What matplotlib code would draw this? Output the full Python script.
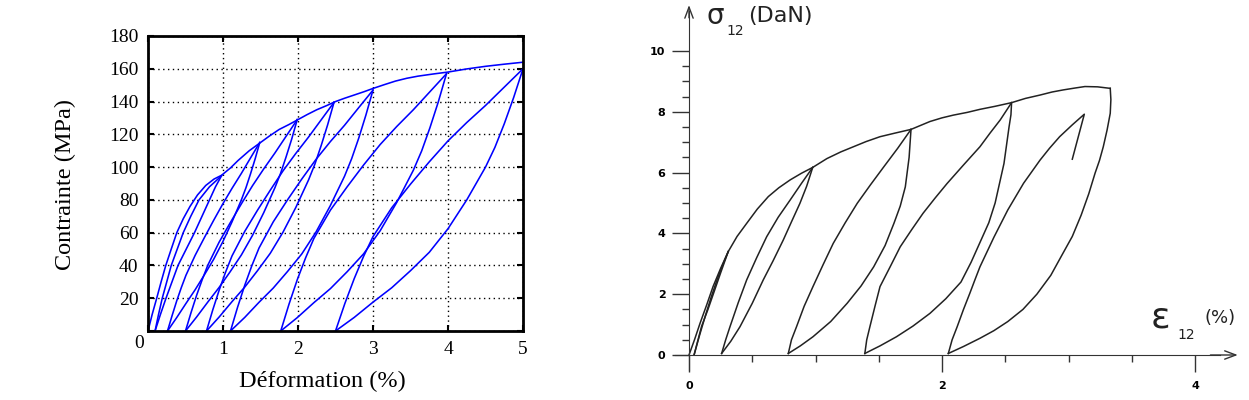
import matplotlib.pyplot as plt
from matplotlib.ticker import FixedLocator

# ---- left panel : contrainte (MPa) vs deformation (%) ----
env_eps = [0, 0.055, 0.116, 0.175, 0.237, 0.31, 0.384, 0.47, 0.56, 0.66, 0.77, 0.88, 0.98,
           1.1, 1.2, 1.35, 1.5, 1.62, 1.75, 1.88, 2.0, 2.12, 2.25, 2.38, 2.5, 2.62, 2.75,
           2.88, 3.0, 3.15, 3.3, 3.45, 3.6, 3.8, 4.0, 4.25, 4.5, 4.75, 5.0]
env_sig = [0, 10, 20, 30, 40, 50, 60, 68.5, 76, 83, 88.8, 92.7, 95,
           99.5, 104, 110, 115, 119, 123, 126, 129, 132, 135, 137.5, 140, 142, 144,
           146, 148, 150.3, 152.5, 154.2, 155.5, 156.8, 158, 159.9, 161.5, 162.8, 164]

l1_down_eps = [0.98, 0.90, 0.82, 0.72, 0.62, 0.51, 0.40, 0.32, 0.24, 0.165, 0.094]
l1_down_sig = [94.7, 88, 80, 70, 60, 50, 40, 30, 20, 10, 0]
l1_up_eps = [0.094, 0.14, 0.19, 0.25, 0.31, 0.39, 0.47, 0.57, 0.68, 0.82, 0.98]
l1_up_sig = [0, 10, 20, 30, 40, 50, 60, 70, 80, 88, 94.7]

l2_down_eps = [1.49, 1.429, 1.367, 1.306, 1.244, 1.121, 0.998, 0.875, 0.752, 0.629, 0.506, 0.383, 0.26]
l2_down_sig = [115, 105.1, 95.9, 87.4, 79.9, 66.7, 54.5, 43.7, 34.3, 25.2, 16.8, 8.2, 0]
l2_up_eps = [0.26, 0.322, 0.383, 0.445, 0.506, 0.629, 0.752, 0.875, 0.998, 1.121, 1.244, 1.367, 1.49]
l2_up_sig = [0, 9.5, 18.4, 26.6, 34.0, 46.2, 57.0, 67.5, 77.6, 87.1, 96.1, 105.6, 115]

l3_down_eps = [1.99, 1.916, 1.841, 1.767, 1.692, 1.543, 1.394, 1.245, 1.096, 0.947, 0.798, 0.649, 0.50]
l3_down_sig = [129, 117.1, 106.2, 96.1, 87.4, 72.2, 58.4, 46.4, 36.2, 26.5, 17.7, 8.6, 0]
l3_up_eps = [0.50, 0.575, 0.649, 0.724, 0.798, 0.947, 1.096, 1.245, 1.394, 1.543, 1.692, 1.841, 1.99]
l3_up_sig = [0, 11.4, 21.9, 31.5, 40.2, 54.1, 66.0, 77.6, 88.7, 98.9, 108.6, 118.8, 129]

l4_down_eps = [2.48, 2.395, 2.31, 2.225, 2.14, 1.97, 1.80, 1.63, 1.46, 1.29, 1.12, 0.95, 0.78]
l4_down_sig = [139.5, 125.8, 113.3, 101.8, 92.1, 75.3, 60.3, 47.4, 36.8, 26.8, 17.9, 8.6, 0]
l4_up_eps = [0.78, 0.865, 0.95, 1.035, 1.12, 1.29, 1.46, 1.63, 1.80, 1.97, 2.14, 2.31, 2.48]
l4_up_sig = [0, 13.1, 25.1, 36.0, 45.8, 60.8, 73.7, 85.9, 97.7, 108.3, 118.3, 128.9, 139.5]

l5_down_eps = [3.0, 2.905, 2.81, 2.715, 2.62, 2.43, 2.24, 2.05, 1.86, 1.67, 1.48, 1.29, 1.10]
l5_down_sig = [147, 131.7, 117.7, 105.1, 94.4, 76.4, 60.4, 47.0, 36.3, 26.2, 17.5, 8.3, 0]
l5_up_eps = [1.10, 1.195, 1.29, 1.385, 1.48, 1.67, 1.86, 2.05, 2.24, 2.43, 2.62, 2.81, 3.0]
l5_up_sig = [0, 14.6, 27.9, 39.9, 50.6, 66.6, 80.0, 92.7, 104.7, 115.5, 125.5, 136.3, 147]

l6_down_eps = [3.98, 3.87, 3.759, 3.649, 3.538, 3.317, 3.096, 2.875, 2.654, 2.433, 2.212, 1.991, 1.77]
l6_down_sig = [157, 139.7, 124.0, 109.9, 98.1, 78.5, 61.2, 47.1, 36.1, 25.9, 17.3, 8.2, 0]
l6_up_eps = [1.77, 1.881, 1.991, 2.102, 2.212, 2.433, 2.654, 2.875, 3.096, 3.317, 3.538, 3.759, 3.98]
l6_up_sig = [0, 16.5, 31.4, 44.7, 56.5, 73.8, 87.9, 101.3, 113.8, 124.8, 135.0, 146.0, 157]

l7_down_eps = [5.0, 4.875, 4.75, 4.625, 4.5, 4.25, 4.0, 3.75, 3.5, 3.25, 3.0, 2.75, 2.5]
l7_down_sig = [160, 142.4, 126.4, 112.0, 100.0, 80.0, 62.4, 48.0, 36.8, 26.4, 17.6, 8.3, 0]
l7_up_eps = [2.5, 2.625, 2.75, 2.875, 3.0, 3.25, 3.5, 3.75, 4.0, 4.25, 4.5, 4.75, 5.0]
l7_up_sig = [0, 16.8, 32.0, 45.6, 57.6, 75.2, 89.6, 103.2, 116.0, 127.2, 137.6, 148.8, 160]

left_curves = [
    (l1_down_eps, l1_down_sig), (l1_up_eps, l1_up_sig),
    (l2_down_eps, l2_down_sig), (l2_up_eps, l2_up_sig),
    (l3_down_eps, l3_down_sig), (l3_up_eps, l3_up_sig),
    (l4_down_eps, l4_down_sig), (l4_up_eps, l4_up_sig),
    (l5_down_eps, l5_down_sig), (l5_up_eps, l5_up_sig),
    (l6_down_eps, l6_down_sig), (l6_up_eps, l6_up_sig),
    (l7_down_eps, l7_down_sig), (l7_up_eps, l7_up_sig),
]

left_xticks = [0, 1, 2, 3, 4, 5]
left_xlabels = ['', '1', '2', '3', '4', '5']
left_yticks = [0, 20, 40, 60, 80, 100, 120, 140, 160, 180]
left_ylabels = [''] + [str(v) for v in left_yticks[1:]]

# ---- right panel : sigma12 (DaN) vs epsilon12 (%) ----
r_env_eps = [0, 0.045, 0.087, 0.14, 0.19, 0.25, 0.31, 0.38, 0.456, 0.54, 0.627, 0.71, 0.80,
             0.89, 0.978, 1.09, 1.2, 1.30, 1.40, 1.51, 1.63, 1.755, 1.905, 2.0, 2.09, 2.2,
             2.30, 2.42, 2.55, 2.66, 2.775, 2.87, 2.96, 3.05, 3.13, 3.23, 3.33]
r_env_sig = [0, 0.52, 1.04, 1.65, 2.25, 2.85, 3.4, 3.9, 4.33, 4.8, 5.21, 5.5, 5.76,
             5.98, 6.17, 6.46, 6.68, 6.85, 7.02, 7.18, 7.3, 7.42, 7.68, 7.8, 7.89, 7.98,
             8.08, 8.18, 8.3, 8.44, 8.55, 8.65, 8.72, 8.78, 8.83, 8.82, 8.77]

r0_down_eps = [0.31, 0.25, 0.2, 0.15, 0.1, 0.07, 0.04]
r0_down_sig = [3.4, 2.7, 2.1, 1.5, 0.95, 0.48, 0]
r0_up_eps = [0.04, 0.085, 0.13, 0.175, 0.22, 0.265, 0.31]
r0_up_sig = [0, 0.67, 1.3, 1.9, 2.45, 2.95, 3.4]

r1_down_eps = [0.978, 0.93, 0.877, 0.81, 0.745, 0.665, 0.587, 0.50, 0.403, 0.33, 0.258]
r1_down_sig = [6.17, 5.55, 4.99, 4.38, 3.78, 3.1, 2.47, 1.7, 0.93, 0.45, 0.05]
r1_up_eps = [0.258, 0.29, 0.324, 0.39, 0.456, 0.535, 0.614, 0.705, 0.80, 0.89, 0.978]
r1_up_sig = [0.05, 0.5, 0.93, 1.73, 2.47, 3.2, 3.89, 4.53, 5.1, 5.65, 6.17]

r2_down_eps = [1.755, 1.74, 1.71, 1.67, 1.62, 1.55, 1.46, 1.36, 1.25, 1.12, 0.98, 0.88, 0.785]
r2_down_sig = [7.42, 6.5, 5.53, 4.9, 4.33, 3.6, 2.9, 2.27, 1.7, 1.1, 0.6, 0.3, 0.05]
r2_up_eps = [0.785, 0.81, 0.85, 0.91, 0.98, 1.06, 1.14, 1.235, 1.33, 1.435, 1.54, 1.65, 1.755]
r2_up_sig = [0.05, 0.5, 0.93, 1.6, 2.25, 2.97, 3.67, 4.35, 4.99, 5.6, 6.19, 6.8, 7.42]

r3_down_eps = [2.55, 2.545, 2.53, 2.49, 2.42, 2.37, 2.30, 2.23, 2.15, 2.03, 1.905, 1.77, 1.64,
               1.51, 1.39]
r3_down_sig = [8.3, 7.9, 7.5, 6.3, 5.0, 4.35, 3.7, 3.05, 2.4, 1.85, 1.37, 0.95, 0.6, 0.3, 0.05]
r3_up_eps = [1.39, 1.405, 1.43, 1.47, 1.51, 1.59, 1.67, 1.76, 1.85, 1.945, 2.04, 2.17, 2.30,
             2.38, 2.46, 2.55]
r3_up_sig = [0.05, 0.5, 0.93, 1.6, 2.25, 2.9, 3.56, 4.12, 4.66, 5.16, 5.64, 6.25, 6.85, 7.3,
             7.73, 8.3]

r4_down_eps = [3.33, 3.335, 3.33, 3.305, 3.275, 3.245, 3.21, 3.16, 3.10, 3.03, 2.95, 2.86,
               2.75, 2.64, 2.52, 2.41, 2.30, 2.17, 2.05]
r4_down_sig = [8.77, 8.4, 7.95, 7.4, 6.85, 6.4, 5.98, 5.3, 4.6, 3.9, 3.3, 2.62,
               2.0, 1.5, 1.1, 0.8, 0.55, 0.28, 0.05]
r4_up_eps = [2.05, 2.08, 2.12, 2.17, 2.22, 2.26, 2.30, 2.41, 2.52, 2.645, 2.775, 2.85, 2.93,
             3.03, 3.125, 3.03]
r4_up_sig = [0.05, 0.5, 0.93, 1.5, 2.03, 2.47, 2.9, 3.87, 4.77, 5.65, 6.41, 6.8, 7.18,
             7.57, 7.92, 6.44]

right_curves = [
    (r_env_eps, r_env_sig),
    (r0_down_eps, r0_down_sig), (r0_up_eps, r0_up_sig),
    (r1_down_eps, r1_down_sig), (r1_up_eps, r1_up_sig),
    (r2_down_eps, r2_down_sig), (r2_up_eps, r2_up_sig),
    (r3_down_eps, r3_down_sig), (r3_up_eps, r3_up_sig),
    (r4_down_eps, r4_down_sig), (r4_up_eps, r4_up_sig),
]

right_xticks = [0, 2, 4]
right_xminor = [0.5, 1.0, 1.5, 2.5, 3.0, 3.5]
right_yticks = [0, 2, 4, 6, 8, 10]
right_yminor = [0.5, 1, 1.5, 2.5, 3, 3.5, 4.5, 5, 5.5, 6.5, 7, 7.5, 8.5, 9, 9.5]

serif = 'Liberation Serif'
ink = '#222222'

fig = plt.figure(figsize=(12.49, 4.0), dpi=100)

# left axes
ax1 = fig.add_axes([148 / 1249, 69 / 400, 375 / 1249, 295 / 400])
ax1.plot(env_eps, env_sig, color='blue', lw=1.15, solid_joinstyle='round')
for e, s in left_curves:
    ax1.plot(e, s, color='blue', lw=1.15, solid_joinstyle='round')
ax1.set_xlim(0, 5)
ax1.set_ylim(0, 180)
ax1.set_xticks(left_xticks)
ax1.set_xticklabels(left_xlabels)
ax1.set_yticks(left_yticks)
ax1.set_yticklabels(left_ylabels)
ax1.grid(True, color='black', linestyle=(0, (1, 2.5)), lw=1.0)
ax1.tick_params(direction='in', length=4, width=1.5, top=True, right=True,
                labelsize=14, pad=7)
for lbl in ax1.get_xticklabels() + ax1.get_yticklabels():
    lbl.set_fontfamily(serif)
for sp in ax1.spines.values():
    sp.set_linewidth(2)
fig.text(139 / 1249, 1 - 343 / 400, '0', ha='center', va='center',
         family=serif, size=14)
fig.text(322 / 1249, 1 - 381 / 400, 'Déformation (%)', ha='center', va='center',
         family=serif, size=17.5)
fig.text(65 / 1249, 1 - 185 / 400, 'Contrainte (MPa)', ha='center', va='center',
         rotation=90, family=serif, size=17.5)

# right axes
ax2 = fig.add_axes([663.7 / 1249, 14.6 / 400, 581.9 / 1249, 384.6 / 400])
for e, s in right_curves:
    ax2.plot(e, s, color=ink, lw=1.1, solid_joinstyle='round')
ax2.set_xlim(-0.2, 4.4)
ax2.set_ylim(-1.0, 11.65)
ax2.spines['top'].set_visible(False)
ax2.spines['right'].set_visible(False)
ax2.spines['left'].set_position(('data', 0))
ax2.spines['bottom'].set_position(('data', 0))
ax2.spines['left'].set_bounds(-0.5, 11.3)
ax2.spines['bottom'].set_bounds(-0.11, 4.2)
ax2.spines['left'].set_color('#333333')
ax2.spines['bottom'].set_color('#333333')
ax2.xaxis.set_major_locator(FixedLocator(right_xticks))
ax2.xaxis.set_minor_locator(FixedLocator(right_xminor))
ax2.yaxis.set_major_locator(FixedLocator(right_yticks))
ax2.yaxis.set_minor_locator(FixedLocator(right_yminor))
ax2.tick_params(which='major', direction='out', length=12, width=1, color='#333333')
ax2.tick_params(which='minor', direction='out', length=5, width=1, color='#333333')
ax2.tick_params(axis='x', which='major', pad=7)
ax2.tick_params(axis='y', which='major', pad=5)
for lbl in ax2.get_xticklabels() + ax2.get_yticklabels():
    lbl.set_fontsize(8)
    lbl.set_fontweight('bold')
ax2.annotate('', xy=(0, 11.6), xytext=(0, 11.0),
             arrowprops=dict(arrowstyle='->,head_length=0.8,head_width=0.3',
                             color='#333333', lw=1))
ax2.annotate('', xy=(4.36, 0), xytext=(4.1, 0),
             arrowprops=dict(arrowstyle='->,head_length=0.8,head_width=0.3',
                             color='#333333', lw=1))

fig.text(715 / 1249, 1 - 16 / 400, 'σ', ha='center', va='center', size=20, color=ink)
fig.text(735 / 1249, 1 - 31 / 400, '12', ha='center', va='center', size=10, color=ink)
fig.text(780 / 1249, 1 - 16 / 400, '(DaN)', ha='center', va='center', size=16, color=ink)
fig.text(1160 / 1249, 1 - 318 / 400, 'ε', ha='center', va='center', size=26, color=ink)
fig.text(1186 / 1249, 1 - 335 / 400, '12', ha='center', va='center', size=10, color=ink)
fig.text(1220 / 1249, 1 - 318 / 400, '(%)', ha='center', va='center', size=13, color=ink)

fig.savefig('out.png', dpi=100)
